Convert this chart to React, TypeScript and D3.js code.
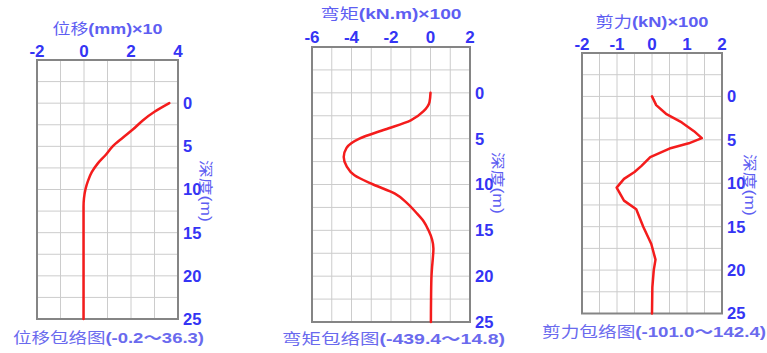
import React from "react";
import * as d3 from "d3";

// Depth (m) at which each envelope value is sampled
const dispDepth = [0, 1, 2, 3, 4, 5, 6, 7, 8, 9, 10, 11, 12, 15, 20, 25];
// Displacement, units of 10 mm
const dispValue = [3.63, 3.0, 2.5, 2.1, 1.65, 1.22, 0.92, 0.58, 0.33, 0.17, 0.06, 0.0, -0.02, -0.02, -0.02, -0.02];

const momentDepth = [0, 1, 2, 3, 4, 5, 6, 7, 8, 9, 10, 11, 12, 13, 14, 15, 16, 17, 18, 19, 20, 22, 25];
// Bending moment, units of 100 kN.m
const momentValue = [0, -0.05, -0.35, -1.0, -2.3, -3.6, -4.25, -4.394, -4.25, -3.85, -2.9, -1.8, -1.2, -0.75, -0.35, -0.1, 0.08, 0.148, 0.12, 0.08, 0.05, 0.03, 0.02];

const shearDepth = [0, 1, 2, 3, 4, 4.8, 5.4, 6, 7, 8, 8.7, 9.5, 10.5, 12, 13, 15, 17, 18.8, 20, 22, 25];
// Shear force, units of 100 kN
const shearValue = [0, 0.12, 0.4, 0.85, 1.2, 1.424, 1.05, 0.5, -0.05, -0.3, -0.5, -0.8, -1.01, -0.8, -0.45, -0.25, -0.02, 0.1, 0.05, 0.01, 0];

const depthTicks = [0, 5, 10, 15, 20, 25];
const dispTicks = [-2, 0, 2, 4];
const momentTicks = [-6, -4, -2, 0, 2];
const shearTicks = [-2, -1, 0, 1, 2];

const titles = ["位移(mm)×10", "弯矩(kN.m)×100", "剪力(kN)×100"];
const captions = ["位移包络图(-0.2～36.3)", "弯矩包络图(-439.4～14.8)", "剪力包络图(-101.0～142.4)"];
const depthLabel = "深度(m)";

const FONT = "'Liberation Sans', Arial, 'Noto Sans CJK SC', sans-serif";
const TICK_COLOR = "#3434f4";
const TITLE_COLOR = "#5e5ef2";
const CAPTION_COLOR = "#6a6aee";

// Chinese words are set in the regular weight, the bracketed part in bold
function splitLabel(s: string) {
  const i = s.indexOf("(");
  return [s.slice(0, i), s.slice(i)];
}

type PanelProps = {
  left: number;
  right: number;
  top: number;
  bottom: number;
  xDomain: [number, number];
  gridStep: number;
  xTicks: number[];
  depth: number[];
  values: number[];
  curve: d3.CurveFactory;
  title: string;
  titleY: number;
  titleLen: number;
  tickY: number;
  caption: string;
  captionX: number;
  captionY: number;
  captionLen: number;
  depthLabelY: number;
};

function Panel(p: PanelProps) {
  const x = d3.scaleLinear().domain(p.xDomain).range([p.left, p.right]);
  const y = d3.scaleLinear().domain([-5, 25]).range([p.top, p.bottom]);
  const xGrid = d3.range(p.xDomain[0] + p.gridStep, p.xDomain[1] - 1e-9, p.gridStep);
  const yGrid = d3.range(-2.5, 25 - 1e-9, 2.5);
  const pts: [number, number][] = p.depth.map((d, i) => [p.values[i], d]);
  const line = d3
    .line<[number, number]>()
    .x((d) => x(d[0]))
    .y((d) => y(d[1]))
    .curve(p.curve);
  const cx = (p.left + p.right) / 2;
  const labelX = p.right + 5;
  const [tHan, tRest] = splitLabel(p.title);
  const [cHan, cRest] = splitLabel(p.caption);
  return (
    <g>
      <rect x={p.left} y={p.top} width={p.right - p.left} height={p.bottom - p.top} fill="#fff" />
      {xGrid.map((v) => (
        <line key={"gx" + v} x1={x(v)} x2={x(v)} y1={p.top} y2={p.bottom} stroke="#cccccc" strokeWidth={1} />
      ))}
      {yGrid.map((v) => (
        <line key={"gy" + v} x1={p.left} x2={p.right} y1={y(v)} y2={y(v)} stroke="#cccccc" strokeWidth={1} />
      ))}
      <rect
        x={p.left}
        y={p.top}
        width={p.right - p.left}
        height={p.bottom - p.top}
        fill="none"
        stroke="#858585"
        strokeWidth={2}
      />
      <path d={line(pts) || ""} fill="none" stroke="#f41c1c" strokeWidth={2.5} strokeLinejoin="round" strokeLinecap="round" />
      <text
        x={cx}
        y={p.titleY}
        textAnchor="middle"
        fontFamily={FONT}
        fontSize={15}
        fill={TITLE_COLOR}
        textLength={p.titleLen}
        lengthAdjust="spacingAndGlyphs"
      >
        <tspan fontWeight="normal">{tHan}</tspan>
        <tspan fontWeight="bold">{tRest}</tspan>
      </text>
      {p.xTicks.map((t) => (
        <text
          key={"xt" + t}
          x={x(t)}
          y={p.tickY}
          textAnchor="middle"
          fontFamily={FONT}
          fontSize={17}
          fontWeight="bold"
          fill={TICK_COLOR}
        >
          {t}
        </text>
      ))}
      {depthTicks.map((t) => (
        <text
          key={"yt" + t}
          x={labelX}
          y={y(t)}
          dy="0.36em"
          fontFamily={FONT}
          fontSize={16.5}
          fontWeight="bold"
          fill={TICK_COLOR}
        >
          {t}
        </text>
      ))}
      <text
        transform={`translate(${p.right + 28},${p.depthLabelY}) rotate(90)`}
        textAnchor="middle"
        dy="0.35em"
        fontFamily={FONT}
        fontSize={14}
        fill={TITLE_COLOR}
        textLength={62}
        lengthAdjust="spacingAndGlyphs"
      >
        {depthLabel}
      </text>
      <text
        x={p.captionX}
        y={p.captionY}
        fontFamily={FONT}
        fontSize={15}
        fill={CAPTION_COLOR}
        textLength={p.captionLen}
        lengthAdjust="spacingAndGlyphs"
      >
        <tspan fontWeight="normal">{cHan}</tspan>
        <tspan fontWeight="bold">{cRest}</tspan>
      </text>
    </g>
  );
}

export default function App() {
  return (
    <svg
      width={767}
      height={353}
      viewBox="0 0 767 353"
      style={{ position: "absolute", left: 0, top: 0, background: "#fff" }}
    >
      <rect width={767} height={353} fill="#fff" />
      <Panel
        left={37}
        right={178}
        top={60}
        bottom={319}
        xDomain={[-2, 4]}
        gridStep={1}
        xTicks={dispTicks}
        depth={dispDepth}
        values={dispValue}
        curve={d3.curveMonotoneY}
        title={titles[0]}
        titleY={34}
        titleLen={110}
        tickY={57}
        caption={captions[0]}
        captionX={13}
        captionY={343}
        captionLen={191}
        depthLabelY={191}
      />
      <Panel
        left={312}
        right={470}
        top={47}
        bottom={322}
        xDomain={[-6, 2]}
        gridStep={1}
        xTicks={momentTicks}
        depth={momentDepth}
        values={momentValue}
        curve={d3.curveMonotoneY}
        title={titles[1]}
        titleY={19}
        titleLen={141}
        tickY={43}
        caption={captions[1]}
        captionX={282}
        captionY={344}
        captionLen={223}
        depthLabelY={183}
      />
      <Panel
        left={582}
        right={722}
        top={53}
        bottom={313.5}
        xDomain={[-2, 2]}
        gridStep={0.5}
        xTicks={shearTicks}
        depth={shearDepth}
        values={shearValue}
        curve={d3.curveLinear}
        title={titles[2]}
        titleY={27}
        titleLen={113}
        tickY={50}
        caption={captions[2]}
        captionX={542}
        captionY={337}
        captionLen={224}
        depthLabelY={185}
      />
    </svg>
  );
}
